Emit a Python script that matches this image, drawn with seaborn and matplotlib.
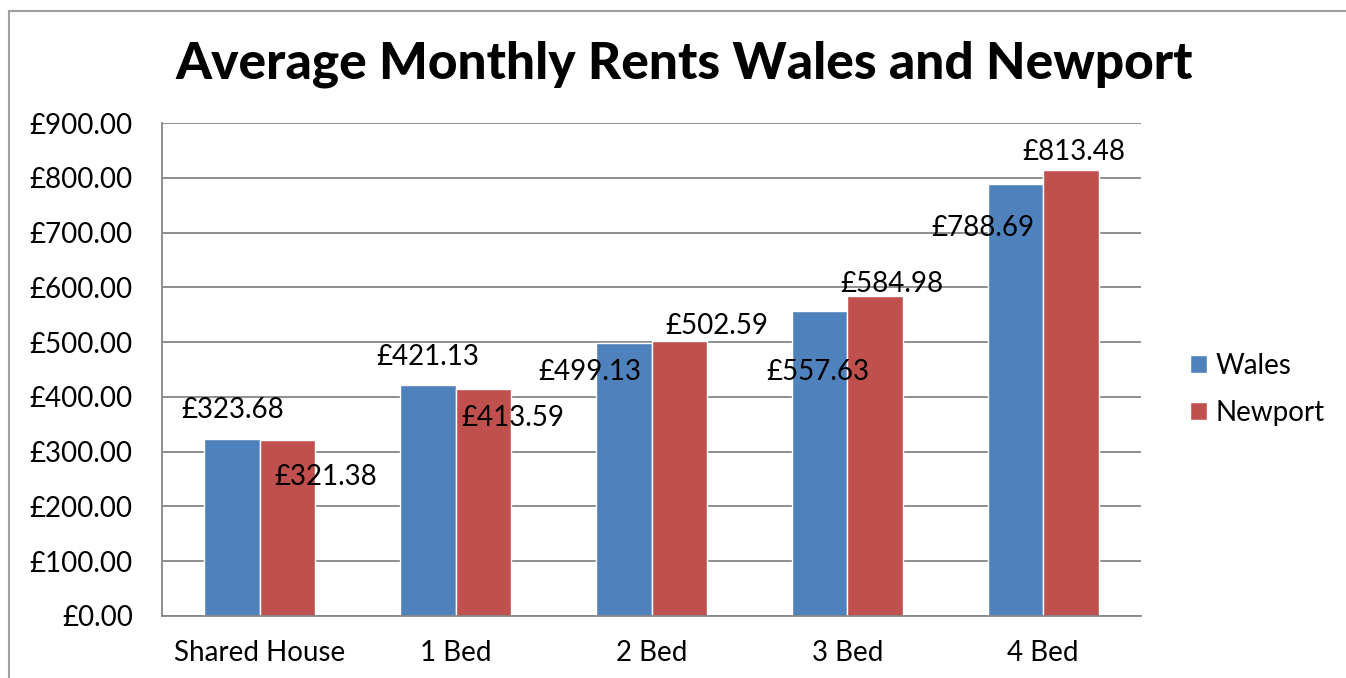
import matplotlib
matplotlib.use("Agg")
import matplotlib.pyplot as plt
from matplotlib.patches import Rectangle
import seaborn as sns
import pandas as pd

# data
categories = ["Shared House", "1 Bed", "2 Bed", "3 Bed", "4 Bed"]
wales = [323.68, 421.13, 499.13, 557.63, 788.69]
newport = [321.38, 413.59, 502.59, 584.98, 813.48]
series = ["Wales", "Newport"]
colors = ["#4F81BD", "#C0504D"]

# where Excel dropped the data labels (pixel offsets from each bar top)
wales_label_off = [(1, 29), (0, 28), (-34, -29), (-2, -61), (-32, -44)]
newport_label_off = [(38, -37), (29, -29), (38, 15), (17, 12), (3, 18)]

df = pd.DataFrame({
    "category": categories * 2,
    "rent": wales + newport,
    "series": ["Wales"] * len(wales) + ["Newport"] * len(newport),
})

sns.set_style("white")
plt.rcParams["font.family"] = ["Lato", "DejaVu Sans"]
plt.rcParams["text.color"] = "black"
plt.rcParams["xtick.color"] = "black"
plt.rcParams["ytick.color"] = "black"

fig = plt.figure(figsize=(13.46, 6.78), dpi=100)
ax = fig.add_axes([162 / 1346, 62 / 678, 979 / 1346, 493 / 678])

sns.barplot(data=df, x="category", y="rent", hue="series", palette=colors,
            width=0.566, saturation=1, ax=ax, legend=True)

grey = "#868686"
ax.set_ylim(0, 900)
ax.set_xlim(-0.5, len(categories) - 0.5)
ax.set_yticks(range(0, 901, 100))
ax.set_yticklabels([f"£{v:.2f}" for v in range(0, 901, 100)])
ax.yaxis.grid(True, color=grey, linewidth=1.3)
ax.set_axisbelow(True)
ax.set_xlabel("")
ax.set_ylabel("")
for side in ["top", "right"]:
    ax.spines[side].set_visible(False)
for side in ["left", "bottom"]:
    ax.spines[side].set_color(grey)
    ax.spines[side].set_linewidth(1.3)

ax.tick_params(axis="y", length=7, width=1.3, color=grey, labelsize=20, pad=14)
ax.tick_params(axis="x", length=0, labelsize=20, pad=17)
ax.set_xticks([i - 0.5 for i in range(len(categories) + 1)], minor=True)
ax.tick_params(axis="x", which="minor", length=7, width=1.3, color=grey)

# data labels
for cont, offs, vals in zip(ax.containers, [wales_label_off, newport_label_off], [wales, newport]):
    for bar, (dx, dy), v in zip(cont, offs, vals):
        ax.annotate(f"£{v:.2f}", xy=(bar.get_x() + bar.get_width() / 2, bar.get_height()),
                    xytext=(dx, dy), textcoords="offset pixels",
                    ha="center", va="center", fontsize=20, color="black")

leg = ax.legend(loc="center left", bbox_to_anchor=(1.025, 0.46), frameon=False,
                fontsize=20, handlelength=0.6, handleheight=0.6, handletextpad=0.3,
                labelspacing=0.75)

fig.suptitle("Average Monthly Rents Wales and Newport", x=0.508, y=0.94,
             fontsize=37, fontweight="black")

# chart frame
fig.patches.append(Rectangle((9 / 1346, -0.2), 1.2, 1.2 - 11 / 678, transform=fig.transFigure,
                             fill=False, edgecolor="#A0A0A0", linewidth=1.5))

fig.savefig("out.png", dpi=100)
